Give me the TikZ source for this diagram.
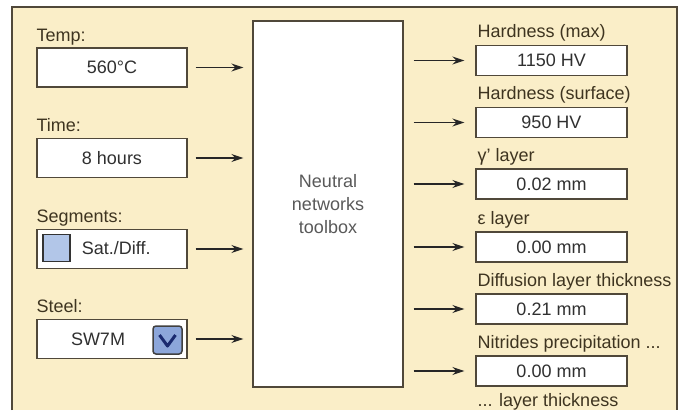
\documentclass[tikz,border=0pt]{standalone}
\usepackage{fontspec}
\setmainfont{Liberation Sans}
\usepackage{xcolor}
\usetikzlibrary{positioning, arrows.meta}

\definecolor{panel}{RGB}{250,238,200}
\definecolor{rim}{RGB}{80,72,58}
\definecolor{labeltext}{RGB}{62,52,32}
\definecolor{valuetext}{RGB}{48,48,48}
\definecolor{tickfill}{RGB}{178,198,232}
\definecolor{dropfill}{RGB}{140,166,218}
\definecolor{dropmark}{RGB}{26,42,112}

\begin{document}
\begin{tikzpicture}[x=1pt, y=-1pt,
    inbox/.style={draw=rim, line width=1.3pt, fill=white, minimum width=150pt, minimum height=39pt, inner sep=0pt, font=\fontsize{18}{20}\selectfont, text=valuetext},
    outbox/.style={inbox, minimum width=151pt, minimum height=30pt},
    caption/.style={anchor=base west, inner sep=0pt, font=\fontsize{18}{20}\selectfont, text=labeltext},
    feed/.style={draw=black!85, line width=1.5pt, -{Stealth[length=12pt, width=8pt]}}]
\useasboundingbox (0,0) rectangle (682,410);

% panel, open at the bottom
\fill[panel] (12,7) rectangle (677,410);
\draw[rim, line width=2pt] (12,410) -- (12,7) -- (677,7) -- (677,410);

% inputs
\node[inbox] (temp) at (112,67.5) {560°C};
\node[inbox] (time) at (112,158) {8 hours};
\node[inbox] (segm) at (112,249) {};
\node[inbox] (steel) at (112,339) {};
\node[caption] at ([yshift=6pt]temp.north west) {Temp:};
\node[caption] at ([yshift=6pt]time.north west) {Time:};
\node[caption] at ([yshift=6pt]segm.north west) {Segments:};
\node[caption] at ([yshift=6pt]steel.north west) {Steel:};

\node[draw=black!80, line width=1.5pt, fill=tickfill, minimum size=27pt, inner sep=0pt] (tick) at (56.5,248) {};
\node[right=11pt of tick, inner sep=0pt, font=\fontsize{18}{20}\selectfont, text=valuetext] (sat) {Sat./Diff.};
\node[inner sep=0pt, font=\fontsize{18}{20}\selectfont, text=valuetext] (sw) at (98,339) {SW7M};
\node[draw=black!75, line width=1.5pt, fill=dropfill, rounded corners=3pt, minimum width=29pt, minimum height=28pt, inner sep=0pt] (drop) at (167.5,340) {};
\draw[dropmark, line width=3pt, line join=round] ([xshift=-8pt, yshift=5pt]drop.center) -- ([yshift=-6pt]drop.center) -- ([xshift=8pt, yshift=5pt]drop.center);

% the network block
\node[draw=rim, line width=1.3pt, fill=white, minimum width=150pt, minimum height=366pt, align=center, text=black!65, font=\fontsize{18}{23}\selectfont] (nnt) at (328,204) {Neutral\\networks\\toolbox};

% outputs
\node[outbox] (hmax) at (551.5,60.5) {1150 HV};
\node[outbox] (hsurf) at (551.5,122.5) {950 HV};
\node[outbox] (gamma) at (551.5,184) {0.02 mm};
\node[outbox] (eps) at (551.5,247) {0.00 mm};
\node[outbox] (diff) at (551.5,309) {0.21 mm};
\node[outbox] (nitr) at (551.5,371) {0.00 mm};
\node[caption] at ([xshift=2pt, yshift=7pt]hmax.north west) {Hardness (max)};
\node[caption] at ([xshift=2pt, yshift=7pt]hsurf.north west) {Hardness (surface)};
\node[caption] at ([xshift=2pt, yshift=7pt]gamma.north west) {γ' layer};
\node[caption] at ([xshift=2pt, yshift=7pt]eps.north west) {ε layer};
\node[caption] at ([xshift=2pt, yshift=7pt]diff.north west) {Diffusion layer thickness};
\node[caption] at ([xshift=2pt, yshift=7pt]nitr.north west) {Nitrides precipitation ...};
\node[caption] at ([xshift=2pt, yshift=-20pt]nitr.south west) {... layer thickness};

% connectors
\draw[feed] ([xshift=8pt]temp.east) -- ([xshift=-9pt]temp.east -| nnt.west);
\draw[feed] ([xshift=8pt]time.east) -- ([xshift=-9pt]time.east -| nnt.west);
\draw[feed] ([xshift=8pt]segm.east) -- ([xshift=-9pt]segm.east -| nnt.west);
\draw[feed] ([xshift=8pt]steel.east) -- ([xshift=-9pt]steel.east -| nnt.west);
\draw[feed] ([xshift=10pt]hmax.west -| nnt.east) -- ([xshift=-11pt]hmax.west);
\draw[feed] ([xshift=10pt]hsurf.west -| nnt.east) -- ([xshift=-11pt]hsurf.west);
\draw[feed] ([xshift=10pt]gamma.west -| nnt.east) -- ([xshift=-11pt]gamma.west);
\draw[feed] ([xshift=10pt]eps.west -| nnt.east) -- ([xshift=-11pt]eps.west);
\draw[feed] ([xshift=10pt]diff.west -| nnt.east) -- ([xshift=-11pt]diff.west);
\draw[feed] ([xshift=10pt]nitr.west -| nnt.east) -- ([xshift=-11pt]nitr.west);
\end{tikzpicture}
\end{document}
